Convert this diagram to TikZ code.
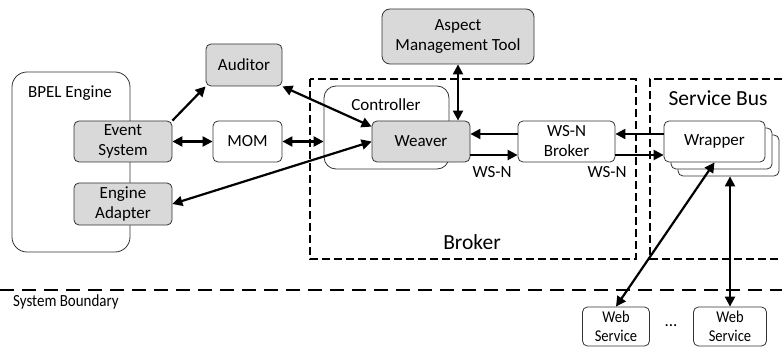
\documentclass[tikz,border=0pt]{standalone}
\usepackage{fontspec}
\setmainfont{Carlito}
\usetikzlibrary{arrows.meta}
\definecolor{boxgray}{HTML}{D9D9D9}
\definecolor{edgegray}{HTML}{333333}
\tikzset{
  box/.style={draw=edgegray, line width=0.8pt, rounded corners=5pt, align=center,
    font=\fontsize{17}{20}\selectfont, inner sep=0pt, fill=white},
  graybox/.style={box, fill=boxgray},
  lbl/.style={font=\fontsize{17}{20}\selectfont, inner sep=0pt},
  biglbl/.style={font=\fontsize{21.5}{24}\selectfont, inner sep=0pt},
  arr/.style={line width=2.2pt, -{Triangle[length=10pt,width=10pt]}},
  darr/.style={line width=2.2pt, {Triangle[length=10pt,width=10pt]}-{Triangle[length=10pt,width=10pt]}},
  dashbox/.style={line width=2.4pt, dash pattern=on 8pt off 4pt},
  boundary/.style={line width=2.4pt, dash pattern=on 14pt off 8pt},
}
\newcommand{\narrow}[1]{\scalebox{0.88}[1]{#1}}
\begin{document}
\begin{tikzpicture}[x=1pt,y=-1pt]
\useasboundingbox (0,0) rectangle (782,350);

% containers
\node[box, rounded corners=15pt, minimum width=118pt, minimum height=180pt] (bpel) at (71,162) {};
\node[lbl] (bpellbl) at (70,93) {BPEL Engine};

\draw[dashbox] (310,79) rectangle (636,259);
\node[biglbl] (brokerlbl) at (472,242) {Broker};
\draw[dashbox] (782,79) -- (650,79) -- (650,259) -- (782,259);
\node[biglbl] (sblbl) at (718,98) {Service Bus};

\draw[boundary] (0,290) -- (782,290);
\node[lbl, anchor=west] (sysb) at (13,302) {\narrow{System Boundary}};

% nodes
\node[graybox, minimum width=98pt, minimum height=41pt] (ev) at (123,141.5) {Event\\System};
\node[graybox, minimum width=98pt, minimum height=42pt] (ea) at (123,204) {Engine\\Adapter};
\node[graybox, minimum width=76pt, minimum height=42pt] (aud) at (244,65) {Auditor};
\node[box, minimum width=69pt, minimum height=41pt] (mom) at (247.5,141.5) {MOM};

\node[box, rounded corners=12pt, minimum width=125pt, minimum height=83pt] (ctrl) at (386.5,127.5) {};
\node[lbl] (ctrllbl) at (386,105) {Controller};
\node[graybox, minimum width=98pt, minimum height=41pt] (weav) at (421,141.5) {Weaver};
\node[graybox, rounded corners=8pt, minimum width=152pt, minimum height=55pt] (amt) at (458,36.5) {Aspect\\Management Tool};
\node[box, minimum width=97pt, minimum height=41pt] (wsn) at (566.5,141.5) {WS-N\\Broker};

\node[box, minimum width=101pt, minimum height=41pt] (wrap3) at (728.5,155.5) {};
\node[box, minimum width=101pt, minimum height=41pt] (wrap2) at (721.5,148.5) {};
\node[box, minimum width=101pt, minimum height=41pt] (wrap) at (714.5,141.5) {Wrapper};

\node[box, font=\fontsize{16.5}{19}\selectfont, minimum width=67pt, minimum height=39pt] (ws1) at (616,326.5) {\narrow{Web}\\\narrow{Service}};
\node[box, font=\fontsize{16.5}{19}\selectfont, minimum width=73pt, minimum height=39pt] (ws2) at (730,326.5) {\narrow{Web}\\\narrow{Service}};
\node[lbl] (dots) at (671,326) {...};

% connectors
\draw[arr] (ev.north east) -- (aud.south west);
\draw[darr] (ev.east) -- (mom.west);
\draw[darr] (mom.east) -- (mom.east -| ctrl.west);
\draw[darr] (aud.south east) -- ([yshift=-6pt]weav.north west);
\draw[darr] (ea.east) -- (weav.west);
\draw[darr] (amt.south) -- (amt.south |- weav.north);
\draw[arr] ([yshift=7.5pt]wsn.west) -- ([yshift=7.5pt]weav.east);
\draw[arr] ([yshift=-13.5pt]weav.east) -- ([yshift=-13.5pt]wsn.west);
\draw[arr] ([yshift=7.5pt]wrap.west) -- ([yshift=7.5pt]wsn.east);
\draw[arr] ([yshift=-13.5pt]wsn.east) -- ([yshift=-13.5pt]wrap.west);
\draw[darr] (wrap.south) -- (ws1.north);
\draw[darr] (ws2.north |- wrap3.south) -- (ws2.north);

\node[lbl] (wsnl1) at (492,172) {WS-N};
\node[lbl] (wsnl2) at (607,172) {WS-N};
\end{tikzpicture}
\end{document}
